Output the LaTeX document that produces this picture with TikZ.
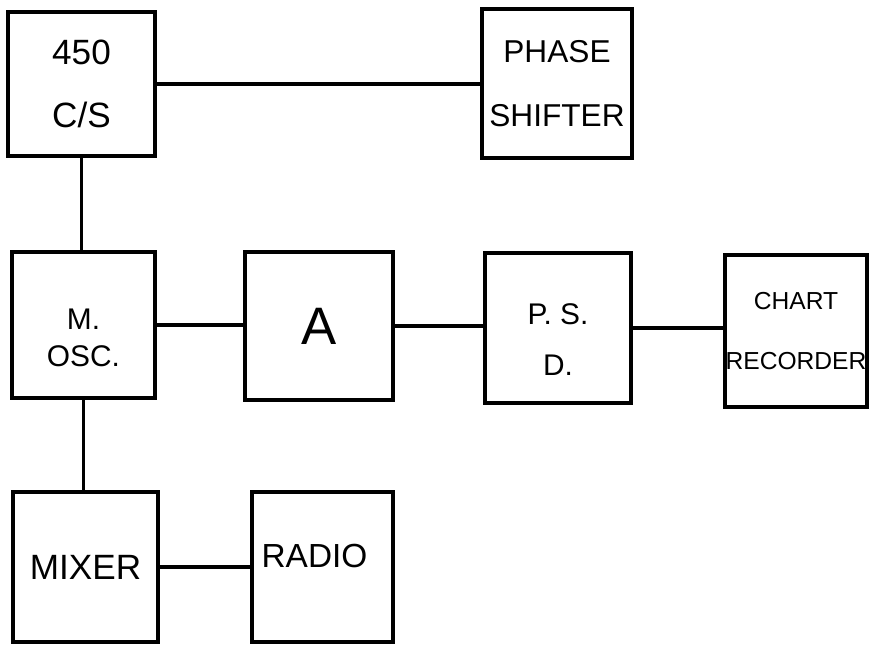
\documentclass[tikz,border=0pt]{standalone}
\usepackage{fontspec}
\setmainfont{Liberation Sans}
\usepackage{tikz}
\usetikzlibrary{positioning}

\tikzset{
  blok/.style={draw, line width=2pt, inner sep=0pt, align=center},
  tekst/.style={align=center, inner sep=0pt},
  wire/.style={line width=1.8pt}
}

\begin{document}
\begin{tikzpicture}[x=0.02cm, y=-0.02cm]
        \useasboundingbox (0,0) rectangle (870,645);
        \node[blok, minimum width=2.94cm, minimum height=2.88cm, font=\fontsize{20}{22}\selectfont]
          (osc450) at (81.5,84) {450\\[14pt]C/S};
        \node[blok, minimum width=3.00cm, minimum height=2.98cm, font=\fontsize{18}{22}\selectfont]
          (phase) at (557,83.5) {PHASE\\[14pt]SHIFTER};
        \node[blok, minimum width=2.86cm, minimum height=2.92cm,
          label={[tekst, name=mosctxt, yshift=-0.26cm, font=\fontsize{17}{21}\selectfont]center:{M.\\OSC.}}]
          (mosc) at (83.5,325) {};
        \node[blok, minimum width=2.96cm, minimum height=2.96cm, font=\fontsize{30}{34}\selectfont]
          (amp) at (319,326) {A};
        \node[blok, minimum width=2.92cm, minimum height=3.00cm,
          label={[tekst, name=psdtxt, yshift=-0.24cm, font=\fontsize{17}{21}\selectfont]center:{P. S.\\[8pt]D.}}]
          (psd) at (558,328) {};
        \node[blok, minimum width=2.84cm, minimum height=3.04cm, font=\fontsize{14}{17}\selectfont]
          (chart) at (796,331) {CHART\\[17pt]RECORDER};
        \node[blok, minimum width=2.90cm, minimum height=3.00cm, font=\fontsize{20}{22}\selectfont]
          (mixer) at (85.5,567) {MIXER};
        \node[blok, minimum width=2.82cm, minimum height=3.00cm,
          label={[tekst, name=radiotxt, xshift=-0.16cm, yshift=0.22cm, font=\fontsize{19}{22}\selectfont]center:RADIO}]
          (radio) at (322.5,567) {};

        \draw[wire, line width=2pt] (osc450.east) -- (osc450.east -| phase.west);
        \draw[wire] (osc450.south) -- (osc450.south |- mosc.north);
        \draw[wire] (mosc.east) -- (mosc.east -| amp.west);
        \draw[wire] (amp.east) -- (amp.east -| psd.west);
        \draw[wire] (psd.east) -- (psd.east -| chart.west);
        \draw[wire] (mosc.south) -- (mosc.south |- mixer.north);
        \draw[wire] (mixer.east) -- (mixer.east -| radio.west);
      \end{tikzpicture}
\end{document}
